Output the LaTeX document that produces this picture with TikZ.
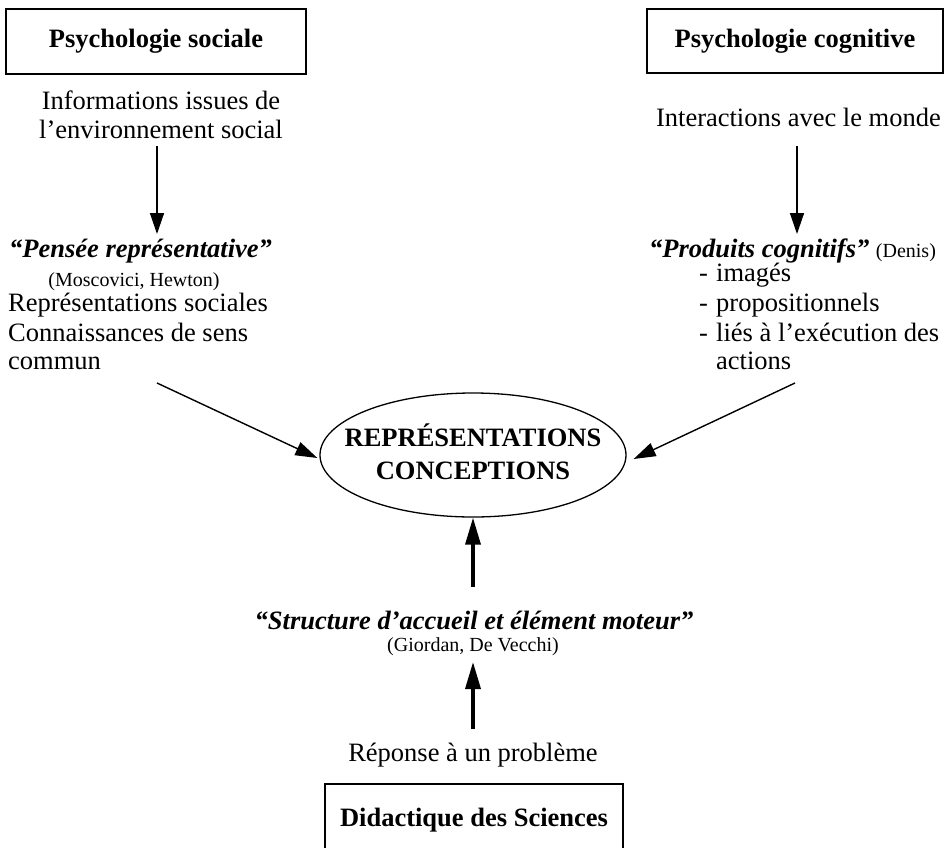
\documentclass[tikz,border=0pt]{standalone}
\usepackage{fontspec}
\setmainfont{Liberation Serif}
\usetikzlibrary{arrows.meta,shapes.geometric}
\newcommand\smallsz{\fontsize{20}{24}\selectfont}
\begin{document}
\begin{tikzpicture}[x=1pt,y=-1pt,
  txt/.style={inner sep=0pt, anchor=base, font=\fontsize{26.5}{30}\selectfont},
  boxnode/.style={draw, line width=1.3pt, inner sep=0pt, font=\bfseries\fontsize{26.5}{30}\selectfont},
  thinarrow/.style={line width=1.4pt, -{Triangle[length=21pt,width=14pt]}},
  diagarrow/.style={line width=1.4pt, -{Triangle[length=22pt,width=14pt]}},
  thickarrow/.style={line width=3.5pt, -{Triangle[length=27pt,width=15pt]}}]
\useasboundingbox (0,0) rectangle (946,847);

% boxes
\node[boxnode, minimum width=300pt, minimum height=65pt] (b1) at (156,41.5) {Psychologie sociale};
\node[boxnode, minimum width=296pt, minimum height=64pt] (b2) at (795,41) {Psychologie cognitive};
\node[boxnode, minimum width=298pt, minimum height=72pt] (b3) at (474,820) {Didactique des Sciences};

% left column
\node[txt] (inf1) at (161,109) {Informations issues de};
\node[txt] (inf2) at (161,138) {l’environnement social};
\node[txt, anchor=base west] (pens) at (9,257) {\textbf{\textit{“Pensée représentative”}}};
\node[txt, font=\smallsz] (mosc) at (134,286) {(Moscovici, Hewton)};
\node[txt, anchor=base west] (rs) at (8,311) {Représentations sociales};
\node[txt, anchor=base west] (cs) at (8,341) {Connaissances de sens};
\node[txt, anchor=base west] (cm) at (8,369) {commun};

% right column
\node[txt, anchor=base east] (inter) at (941,126) {Interactions avec le monde};
\node[txt, anchor=base west] (prod) at (649,257) {\textbf{\textit{“Produits cognitifs”}} {\smallsz(Denis)}};
\node[txt, anchor=base west] (da) at (699,281) {-};
\node[txt, anchor=base west] (ia) at (716,281) {imagés};
\node[txt, anchor=base west] (db) at (699,311) {-};
\node[txt, anchor=base west] (ib) at (716,311) {propositionnels};
\node[txt, anchor=base west] (dc) at (699,341) {-};
\node[txt, anchor=base west] (ic) at (716,341) {liés à l’exécution des};
\node[txt, anchor=base west] (id) at (716,369) {actions};

% ellipse
\node[draw, ellipse, line width=1.3pt, minimum width=306pt, minimum height=124pt, inner sep=0pt] (ell) at (473,455) {};
\node[txt, font=\bfseries\fontsize{26.5}{30}\selectfont] (rep) at (473,446) {REPRÉSENTATIONS};
\node[txt, font=\bfseries\fontsize{26.5}{30}\selectfont] (conc) at (473,479) {CONCEPTIONS};

% bottom column
\node[txt] (struc) at (474,629) {\textbf{\textit{“Structure d’accueil et élément moteur”}}};
\node[txt, font=\smallsz] (gior) at (473,651) {(Giordan, De Vecchi)};
\node[txt] (rep2) at (473,761) {Réponse à un problème};

% arrow end points
\coordinate (a1s) at (157,146);
\coordinate (a1e) at (157,234);
\coordinate (a2s) at (797,146);
\coordinate (a2e) at (797,234);
\coordinate (dL) at (157,383);
\coordinate (dR) at (795,383);
\coordinate (t1s) at (473,587);
\coordinate (t2s) at (473,729);
\coordinate (t2e) at (473,662);

\draw[thinarrow] (a1s) -- (a1e);
\draw[thinarrow] (a2s) -- (a2e);
\draw[diagarrow] (dL) -- ([shift={(-2,3)}]ell.west);
\draw[diagarrow] (dR) -- ([shift={(7,4)}]ell.east);
\draw[thickarrow] (t1s) -- (ell.south);
\draw[thickarrow] (t2s) -- (t2e);
\end{tikzpicture}
\end{document}
